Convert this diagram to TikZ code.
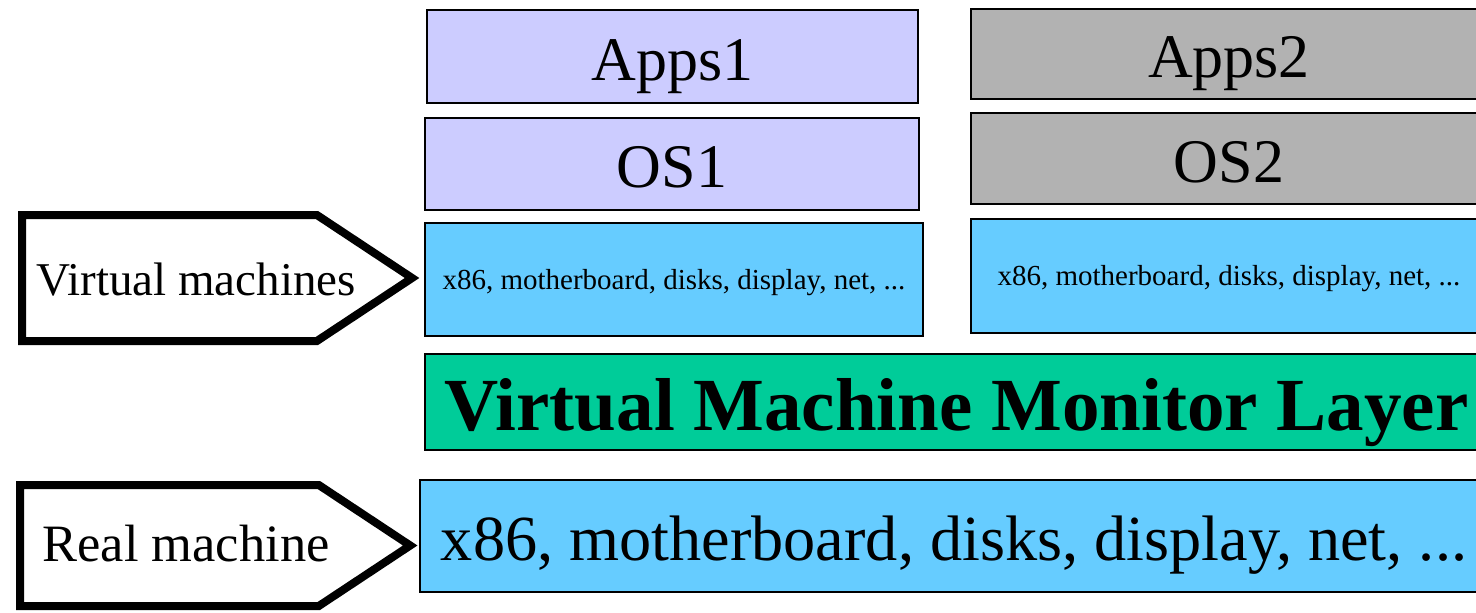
\documentclass[tikz,border=0pt]{standalone}
\usepackage{fontspec}
\setmainfont{Liberation Serif}
\usetikzlibrary{shapes.symbols}

\definecolor{appsblue}{HTML}{CCCCFF}
\definecolor{appsgrey}{HTML}{B2B2B2}
\definecolor{hwblue}{HTML}{66CCFF}
\definecolor{vmmgreen}{HTML}{00CC99}

\tikzset{
    layer/.style={draw=black, line width=1.5pt, inner sep=0pt, outer sep=0pt,
        text depth=0pt},
    pointer/.style={draw=black, line width=8pt, fill=white, shape=signal,
        signal to=east, signal pointer angle=67, inner sep=0pt, outer sep=0pt},
    bigtext/.style={font=\fontsize{62}{70}\selectfont, text height=47pt},
    smalltext/.style={font=\fontsize{29}{34}\selectfont, text height=19pt}
}

\begin{document}
\begin{tikzpicture}[x=1pt, y=-1pt]
    \clip (0,0) rectangle (1476,613);

    % virtual machine 1
    \node[layer, fill=appsblue, minimum width=491pt, minimum height=93pt, bigtext]
        (apps1) at (672.5,56.5) {Apps1};
    \node[layer, fill=appsblue, minimum width=494pt, minimum height=92pt, bigtext]
        (os1) at (672,164) {OS1};
    \node[layer, fill=hwblue, minimum width=498pt, minimum height=113pt, smalltext]
        (hw1) at (674,279.5) {x86, motherboard, disks, display, net, ...};

    % virtual machine 2
    \node[layer, fill=appsgrey, minimum width=516pt, minimum height=90pt, bigtext]
        (apps2) at (1229,54) {Apps2};
    \node[layer, fill=appsgrey, minimum width=516pt, minimum height=91pt, bigtext]
        (os2) at (1229,158.5) {OS2};
    \node[layer, fill=hwblue, minimum width=516pt, minimum height=114pt, smalltext]
        (hw2) at (1229,276) {x86, motherboard, disks, display, net, ...};

    % monitor and real hardware
    \node[layer, fill=vmmgreen, minimum width=1063pt, minimum height=96pt,
        font=\fontsize{75}{80}\selectfont\bfseries, text height=56pt]
        (vmm) at (956.5,402) {Virtual Machine Monitor Layer};
    \node[layer, fill=hwblue, minimum width=1068pt, minimum height=112pt,
        font=\fontsize{64.3}{72}\selectfont, text height=48pt]
        (realhw) at (954,536) {x86, motherboard, disks, display, net, ...};

    % pointers
    \node[pointer, minimum width=390pt, minimum height=126pt] (vmsig) at (169.5,278) {};
    \node[font=\fontsize{47}{54}\selectfont] (vmlabel) at (196,280) {Virtual machines};
    \node[pointer, minimum width=390pt, minimum height=121pt] (realsig) at (169.5,545.5) {};
    \node[font=\fontsize{52.5}{60}\selectfont] (reallabel) at (186,544) {Real machine};
\end{tikzpicture}
\end{document}
